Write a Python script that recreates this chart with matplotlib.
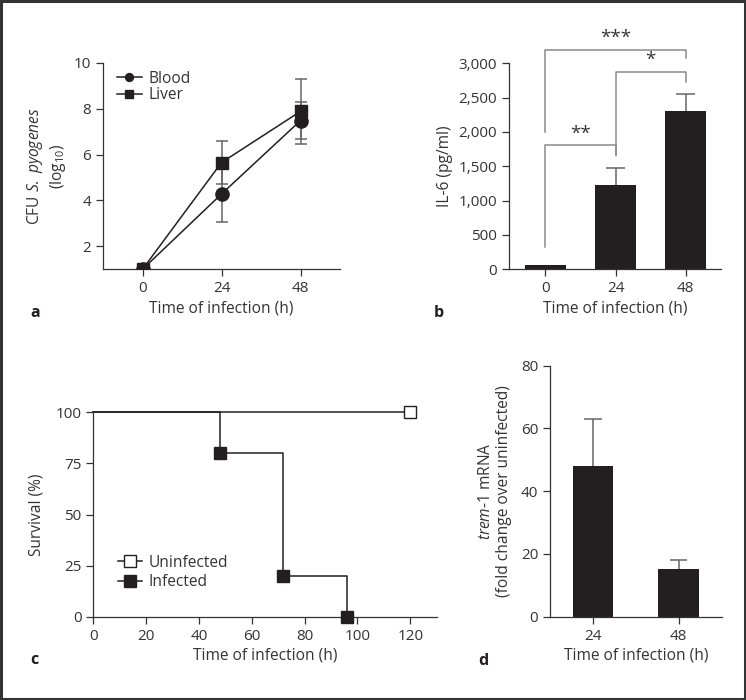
import numpy as np
import matplotlib
matplotlib.use("Agg")
import matplotlib.pyplot as plt
from matplotlib.patches import Rectangle

plt.rcParams["font.family"] = ["Open Sans", "DejaVu Sans"]
plt.rcParams["mathtext.fontset"] = "custom"
plt.rcParams["mathtext.rm"] = "Open Sans"
plt.rcParams["mathtext.it"] = "Open Sans:italic"
plt.rcParams["font.size"] = 11

TXT = "#333333"
BAR = "#231f20"
ERR = "#666666"
FS_TICK = 11
FS_LAB = 11.2

# %% Daten

# a: CFU S. pyogenes (log10)
t_a = [0, 24, 48]
blood = [1.0, 4.28, 7.48]
blood_err = [0.0, 1.24, 0.80]
liver = [1.0, 5.65, 7.88]
liver_err = [0.0, 0.93, 1.42]

# b: IL-6
t_b = ["0", "24", "48"]
il6 = [60, 1225, 2310]
il6_err = [0, 250, 245]

# c: Survival
t_unif = [0, 120]
surv_unif = [100, 100]
t_inf = [0, 48, 72, 96]
surv_inf = [100, 80, 20, 0]

# d: trem-1 mRNA
t_d = ["24", "48"]
trem = [48.1, 15.1]
trem_err = [14.8, 3.0]

fig = plt.figure(figsize=(7.46, 7.0), dpi=100)


def style(ax):
    for s in ["top", "right"]:
        ax.spines[s].set_visible(False)
    for s in ["left", "bottom"]:
        ax.spines[s].set_color(TXT)
        ax.spines[s].set_linewidth(0.9)
    ax.tick_params(colors=TXT, labelcolor=TXT, length=5, width=0.9, labelsize=FS_TICK)


def upper_err(ax, x, y, err, halfw):
    # nur obere Haelfte des Fehlerbalkens, hinter dem Balken
    x = np.asarray(x, dtype=float)
    top = np.asarray(y) + np.asarray(err)
    ax.vlines(x, y, top, color=ERR, lw=1.1, zorder=1)
    ax.hlines(top, x - halfw, x + halfw, color=ERR, lw=1.1, zorder=1)


# %% Panel a
ax = fig.add_axes([103/746, 1-269.3/700, 237/746, 206.6/700])
ax.errorbar(t_a, blood, yerr=blood_err, color=BAR, ecolor=ERR, elinewidth=1.1,
            capsize=4.5, capthick=1.1, marker="o", ms=9.5, lw=1.1, label="Blood", zorder=3)
ax.errorbar(t_a, liver, yerr=liver_err, color=BAR, ecolor=ERR, elinewidth=1.1,
            capsize=4.5, capthick=1.1, marker="s", ms=9, lw=1.1, label="Liver", zorder=3)
ax.set_xlim(-12, 60)
ax.set_ylim(1, 10)
ax.set_xticks([0, 24, 48])
ax.set_yticks([2, 4, 6, 8, 10])
style(ax)
ax.set_xlabel("Time of infection (h)", color=TXT, fontsize=FS_LAB, labelpad=3)
ax.set_ylabel("CFU $\\mathit{S.\\ pyogenes}$\n(log$_{10}$)", color=TXT, fontsize=FS_LAB,
              labelpad=4)
handles, labels = ax.get_legend_handles_labels()
handles = [h[0] for h in handles]
ax.legend(handles, labels, loc="upper left", bbox_to_anchor=(0.0, 1.03), frameon=False,
          markerscale=0.6, handlelength=1.6, handletextpad=0.4, labelspacing=0.05,
          fontsize=FS_LAB, labelcolor=TXT)
fig.text(30/746, 1-313/700, "a", fontweight="bold", fontsize=11.5, color=BAR, va="center")

# %% Panel b
ax = fig.add_axes([509/746, 1-269.3/700, 212.3/746, 206/700])
xb = np.arange(len(t_b))
ax.bar(xb, il6, width=0.58, color=BAR, zorder=2)
upper_err(ax, xb[1:], il6[1:], il6_err[1:], 0.14)
ax.set_xlim(-0.52, 2.51)
ax.set_ylim(0, 3000)
ax.set_xticks(xb, t_b)
ax.set_yticks([0, 500, 1000, 1500, 2000, 2500, 3000],
              ["0", "500", "1,000", "1,500", "2,000", "2,500", "3,000"])
style(ax)
ax.set_xlabel("Time of infection (h)", color=TXT, fontsize=FS_LAB, labelpad=3)
ax.set_ylabel("IL-6 (pg/ml)", color=TXT, fontsize=FS_LAB, labelpad=4)

brackets = [(0, 1, 1806, 330, 1665, "**"),
            (1, 2, 2879, 1665, 2733, "*"),
            (0, 2, 3194, 2005, 3073, "***")]
for x1, x2, yt, y1, y2, s in brackets:
    ax.plot([x1, x1, x2, x2], [y1, yt, yt, y2], color="#8a8a8a", lw=1.1, clip_on=False)
    ax.text((x1 + x2) / 2, yt + 40, s, ha="center", va="bottom", fontsize=13.5,
            color=TXT, clip_on=False)
fig.text(434/746, 1-313/700, "b", fontweight="bold", fontsize=11.5, color=BAR, va="center")

# %% Panel c
ax = fig.add_axes([93.3/746, 1-616.7/700, 343.4/746, 204.4/700])
ax.step(t_unif, surv_unif, where="post", color=BAR, lw=1.1, clip_on=False)
ax.plot(t_unif[-1:], surv_unif[-1:], "s", ms=8, mfc="white", mec=BAR, mew=1,
        clip_on=False, zorder=4)
ax.step(t_inf, surv_inf, where="post", color=BAR, lw=1.1, clip_on=False)
ax.plot(t_inf[1:], surv_inf[1:], "s", ms=8, color=BAR, clip_on=False, zorder=4)
ax.plot([], [], "-s", color=BAR, mfc="white", ms=8, lw=1.1, label="Uninfected")
ax.plot([], [], "-s", color=BAR, ms=8, lw=1.1, label="Infected")
ax.set_xlim(0, 130)
ax.set_ylim(0, 100)
ax.set_xticks([0, 20, 40, 60, 80, 100, 120])
ax.set_yticks([0, 25, 50, 75, 100])
style(ax)
ax.set_xlabel("Time of infection (h)", color=TXT, fontsize=FS_LAB, labelpad=3)
ax.set_ylabel("Survival (%)", color=TXT, fontsize=FS_LAB, labelpad=8)
ax.legend(loc="lower left", bbox_to_anchor=(0.03, 0.06), frameon=False,
          handlelength=1.6, handletextpad=0.4, labelspacing=0.25, fontsize=FS_LAB,
          labelcolor=TXT)
fig.text(30/746, 1-660/700, "c", fontweight="bold", fontsize=11.5, color=BAR, va="center")

# %% Panel d
ax = fig.add_axes([550/746, 1-616.7/700, 171.7/746, 251/700])
xd = np.arange(len(t_d))
ax.bar(xd, trem, width=0.475, color=BAR, zorder=2)
upper_err(ax, xd, trem, trem_err, 0.1)
ax.set_xlim(-0.5, 1.5)
ax.set_ylim(0, 80)
ax.set_xticks(xd, t_d)
ax.set_yticks([0, 20, 40, 60, 80])
style(ax)
ax.set_xlabel("Time of infection (h)", color=TXT, fontsize=FS_LAB, labelpad=3)
ax.set_ylabel("$\\mathit{trem}$-$\\mathit{1}$ mRNA\n(fold change over uninfected)",
              color=TXT, fontsize=FS_LAB, labelpad=6)
fig.text(478/746, 1-661/700, "d", fontweight="bold", fontsize=11.5, color=BAR, va="center")

# Rahmen
fig.patches.append(Rectangle((0.0015, 0.002), 0.997, 0.996, transform=fig.transFigure,
                             fill=False, edgecolor="#333333", lw=2.2))

fig.savefig("out.png", dpi=100)
